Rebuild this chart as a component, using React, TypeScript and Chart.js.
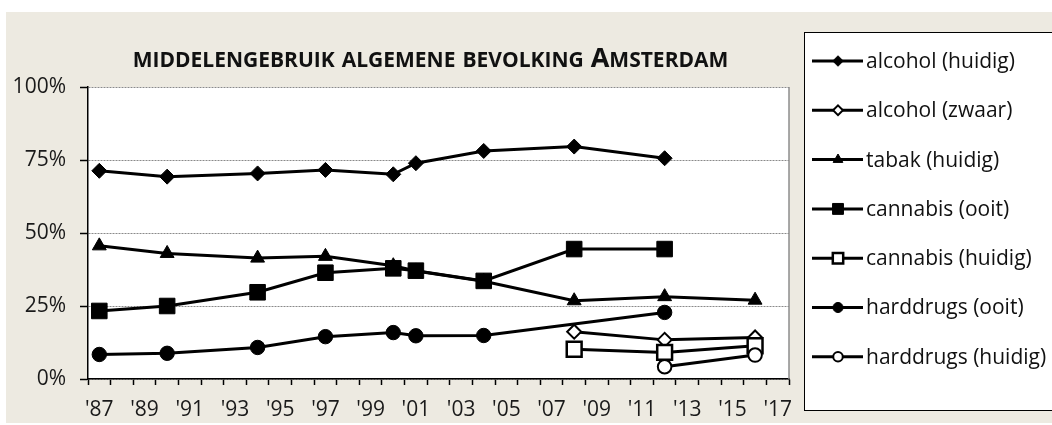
import React, { useEffect, useRef } from 'react';
import { Chart, registerables } from 'chart.js';

Chart.register(...registerables);

const W = 1052;
const H = 425;
const FONT = '"Open Sans", "Noto Sans", sans-serif';
const BEIGE = '#edeae1';

// categories: every year on the axis
const years = [
  1987, 1988, 1989, 1990, 1991, 1992, 1993, 1994, 1995, 1996, 1997, 1998, 1999, 2000, 2001, 2002,
  2003, 2004, 2005, 2006, 2007, 2008, 2009, 2010, 2011, 2012, 2013, 2014, 2015, 2016, 2017,
];
// survey years where values exist
const surveyYears = [1987, 1990, 1994, 1997, 2000, 2001, 2004, 2008, 2012, 2016];

const alcoholHuidig = [71.3, 69.3, 70.4, 71.6, 70.1, 73.9, 78.1, 79.6, 75.6, null];
const alcoholZwaar = [null, null, null, null, null, null, null, 16.2, 13.4, 14.2];
const tabakHuidig = [45.6, 43.0, 41.4, 42.0, 38.8, 37.0, 33.5, 26.8, 28.2, 27.0];
const cannabisOoit = [23.3, 25.0, 29.7, 36.4, 37.9, 37.1, 33.6, 44.5, 44.5, null];
const cannabisHuidig = [null, null, null, null, null, null, null, 10.2, 9.1, 11.4];
const harddrugsOoit = [8.4, 8.8, 10.8, 14.5, 15.9, 14.8, 14.9, null, 22.8, null];
const harddrugsHuidig = [null, null, null, null, null, null, null, null, 4.2, 8.2];

const yTicks = [0, 25, 50, 75, 100];

type Marker = { style: string; radius: number; filled: boolean; border: number };

const seriesDefs: { label: string; values: (number | null)[]; marker: Marker }[] = [
  { label: 'alcohol (huidig)', values: alcoholHuidig, marker: { style: 'rectRot', radius: 7.5, filled: true, border: 1 } },
  { label: 'alcohol (zwaar)', values: alcoholZwaar, marker: { style: 'rectRot', radius: 7, filled: false, border: 2 } },
  { label: 'tabak (huidig)', values: tabakHuidig, marker: { style: 'triangle', radius: 8, filled: true, border: 1 } },
  { label: 'cannabis (ooit)', values: cannabisOoit, marker: { style: 'rect', radius: 11, filled: true, border: 1 } },
  { label: 'cannabis (huidig)', values: cannabisHuidig, marker: { style: 'rect', radius: 10.5, filled: false, border: 2.5 } },
  { label: 'harddrugs (ooit)', values: harddrugsOoit, marker: { style: 'circle', radius: 7.2, filled: true, border: 1 } },
  { label: 'harddrugs (huidig)', values: harddrugsHuidig, marker: { style: 'circle', radius: 6.8, filled: false, border: 2 } },
];

function toCategoryData(values: (number | null)[]) {
  return years.map((y) => {
    const i = surveyYears.indexOf(y);
    return i < 0 ? null : values[i];
  });
}

function drawMarker(ctx: CanvasRenderingContext2D, m: Marker, x: number, y: number, scale: number) {
  const r = m.radius * scale;
  ctx.save();
  ctx.beginPath();
  if (m.style === 'rectRot') {
    ctx.moveTo(x, y - r);
    ctx.lineTo(x + r, y);
    ctx.lineTo(x, y + r);
    ctx.lineTo(x - r, y);
    ctx.closePath();
  } else if (m.style === 'rect') {
    const s = r * Math.SQRT1_2;
    ctx.rect(x - s, y - s, 2 * s, 2 * s);
  } else if (m.style === 'triangle') {
    ctx.moveTo(x, y - r);
    ctx.lineTo(x + r * 0.866, y + r / 2);
    ctx.lineTo(x - r * 0.866, y + r / 2);
    ctx.closePath();
  } else {
    ctx.arc(x, y, r, 0, Math.PI * 2);
  }
  ctx.fillStyle = m.filled ? '#000' : '#fff';
  ctx.fill();
  ctx.lineWidth = m.border;
  ctx.strokeStyle = '#000';
  ctx.stroke();
  ctx.restore();
}

const backgroundPlugin = {
  id: 'bgPlugin',
  beforeDraw(chart: any) {
    const { ctx, chartArea: ca } = chart;
    ctx.save();
    ctx.fillStyle = '#ffffff';
    ctx.fillRect(0, 0, W, H);
    ctx.fillStyle = BEIGE;
    ctx.fillRect(6, 12, W - 6, 411);
    ctx.fillStyle = '#ffffff';
    ctx.fillRect(ca.left, ca.top, ca.right - ca.left, ca.bottom - ca.top);
    ctx.restore();
  },
  beforeDatasetsDraw(chart: any) {
    const { ctx, chartArea: ca } = chart;
    ctx.save();
    ctx.strokeStyle = '#8c8c8c';
    ctx.lineWidth = 1.5;
    ctx.beginPath();
    ctx.moveTo(ca.right, ca.top);
    ctx.lineTo(ca.right, ca.bottom);
    ctx.stroke();
    ctx.restore();
  },
  afterDraw(chart: any) {
    const { ctx } = chart;
    // Title in small caps
    const small = 21;
    const big = 27;
    const parts: [string, number][] = [
      ['MIDDELENGEBRUIK', small], [' ', big], ['ALGEMENE', small], [' ', big],
      ['BEVOLKING', small], [' ', big], ['A', big], ['MSTERDAM', small],
    ];
    ctx.save();
    ctx.fillStyle = '#111';
    ctx.textBaseline = 'alphabetic';
    let total = 0;
    for (const [t, s] of parts) {
      ctx.font = `bold ${s}px ${FONT}`;
      total += ctx.measureText(t).width;
    }
    let x = 430.5 - total / 2;
    for (const [t, s] of parts) {
      ctx.font = `bold ${s}px ${FONT}`;
      ctx.fillText(t, x, 67);
      x += ctx.measureText(t).width;
    }
    ctx.restore();

    // Legend box
    ctx.save();
    ctx.fillStyle = '#ffffff';
    ctx.fillRect(804, 32, W - 804 + 5, 378);
    ctx.strokeStyle = '#000';
    ctx.lineWidth = 1;
    ctx.strokeRect(804.5, 32.5, W - 804 + 5, 378);
    ctx.font = `21px ${FONT}`;
    ctx.textBaseline = 'middle';
    ctx.fillStyle = '#111';
    seriesDefs.forEach((s, i) => {
      const y = 61 + i * 49.3;
      ctx.strokeStyle = '#000';
      ctx.lineWidth = 3;
      ctx.beginPath();
      ctx.moveTo(812, y);
      ctx.lineTo(863, y);
      ctx.stroke();
      drawMarker(ctx, s.marker, 838, y, 0.7);
      ctx.fillStyle = '#111';
      ctx.fillText(s.label, 866, y + 1);
    });
    ctx.restore();
  },
};

export default function App() {
  const canvasRef = useRef<HTMLCanvasElement | null>(null);

  useEffect(() => {
    const canvas = canvasRef.current;
    if (!canvas) return;
    const n = seriesDefs.length;
    const chart = new Chart(canvas, {
      type: 'line',
      data: {
        labels: years.map((y) => "'" + String(y).slice(2)),
        datasets: seriesDefs.map((s, i) => ({
          label: s.label,
          data: toCategoryData(s.values),
          order: n - i,
          borderColor: '#000',
          borderWidth: 3,
          backgroundColor: s.marker.filled ? '#000' : '#fff',
          pointStyle: s.marker.style as any,
          pointRadius: s.marker.radius,
          pointHoverRadius: s.marker.radius,
          pointBorderColor: '#000',
          pointBackgroundColor: s.marker.filled ? '#000' : '#fff',
          pointBorderWidth: s.marker.border,
          spanGaps: true,
          tension: 0,
          fill: false,
        })),
      },
      options: {
        responsive: false,
        animation: false,
        devicePixelRatio: 1,
        layout: { padding: { left: 0, top: 87, right: W - 789, bottom: 0 } },
        plugins: {
          legend: { display: false },
          title: { display: false },
          tooltip: { enabled: false },
        },
        scales: {
          x: {
            type: 'category',
            offset: true,
            grid: {
              display: true,
              drawOnChartArea: false,
              offset: true,
              tickLength: 6,
              tickColor: '#000',
              tickWidth: 1.5,
              color: '#000',
            },
            border: { display: true, color: '#000', width: 1.5 },
            ticks: {
              autoSkip: false,
              maxRotation: 0,
              minRotation: 0,
              padding: 12,
              color: '#1a1a1a',
              font: { family: FONT, size: 21 },
              callback: (_v: any, i: number) => (i % 2 === 0 ? "'" + String(years[i]).slice(2) : ''),
            },
            afterFit: (s: any) => {
              s.height = H - 379;
            },
          },
          y: {
            min: 0,
            max: 100,
            afterBuildTicks: (s: any) => {
              s.ticks = yTicks.map((v) => ({ value: v }));
            },
            grid: {
              color: '#8a8a8a',
              lineWidth: 1,
              tickLength: 8,
              tickColor: '#000',
              tickWidth: 1.5,
              tickBorderDash: [],
            },
            border: { display: true, color: '#000', width: 1.5, dash: [2, 1] },
            ticks: {
              padding: 14,
              color: '#1a1a1a',
              font: { family: FONT, size: 21 },
              callback: (v: any) => v + '%',
            },
            afterFit: (s: any) => {
              s.width = 88;
            },
          },
        },
      },
      plugins: [backgroundPlugin],
    });
    return () => chart.destroy();
  }, []);

  return (
    <div style={{ position: 'absolute', left: 0, top: 0, width: W, height: H }}>
      <canvas ref={canvasRef} width={W} height={H} style={{ display: 'block', width: W, height: H }} />
    </div>
  );
}
